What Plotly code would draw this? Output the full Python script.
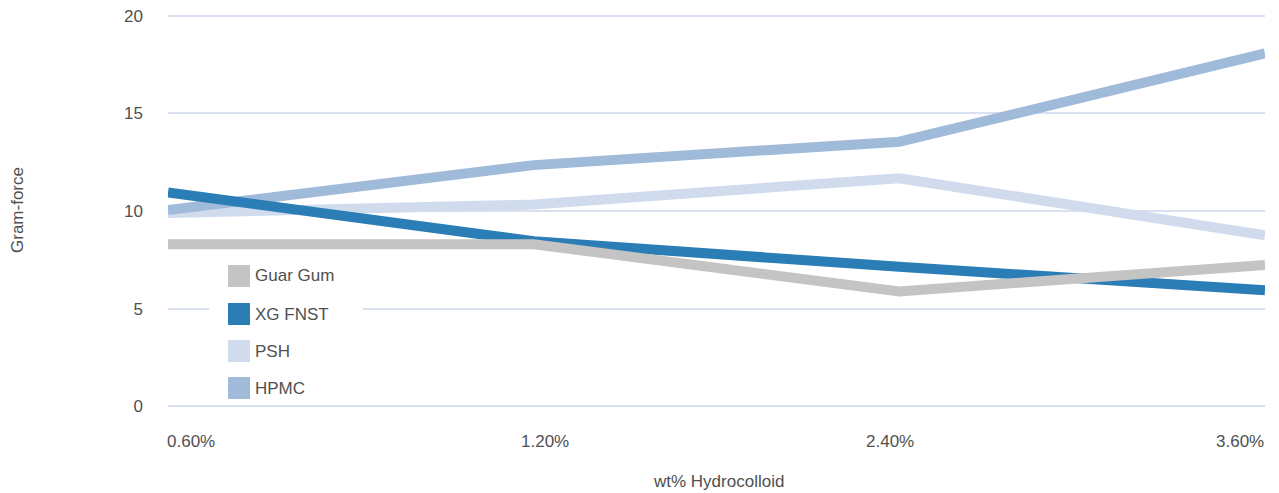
import plotly.graph_objects as go

# Gel strength by hydrocolloid concentration
concentrations = ["0.60%", "1.20%", "2.40%", "3.60%"]
series_names = ["Guar Gum", "XG FNST", "PSH", "HPMC"]
guar_gum = [8.3, 8.3, 5.88, 7.24]
xg_fnst = [10.95, 8.45, 7.14, 5.94]
psh = [9.9, 10.33, 11.68, 8.76]
hpmc = [10.05, 12.35, 13.55, 18.07]
y_ticks = [0, 5, 10, 15, 20]

colors = {
    "Guar Gum": "#c3c4c3",
    "XG FNST": "#2a7db5",
    "PSH": "#d0dcee",
    "HPMC": "#a0bada",
}
values = {"Guar Gum": guar_gum, "XG FNST": xg_fnst, "PSH": psh, "HPMC": hpmc}

W, H = 1279, 493
L, R, T, B = 168, 14, 6, 77
PW, PH = W - L - R, H - T - B

FONT = "Liberation Sans, Arial, sans-serif"
TEXT = "#505050"


def px_x(p):
    return (p - L) / PW


def px_y(p):
    return (H - B - p) / PH


fig = go.Figure()

# draw order: lighter series underneath, Guar Gum on top
for name in ["PSH", "HPMC", "XG FNST", "Guar Gum"]:
    fig.add_trace(go.Scatter(
        x=concentrations, y=values[name], mode="lines", name=name,
        line=dict(color=colors[name], width=10),
        showlegend=False, hoverinfo="skip",
    ))

shapes = []
annotations = []

# legend box (white panel interrupting the gridline)
shapes.append(dict(type="rect", xref="paper", yref="paper",
                   x0=px_x(209), x1=px_x(363), y0=px_y(402), y1=px_y(258),
                   fillcolor="white", line=dict(width=0), layer="above"))
row_y = [276, 314, 351, 388]
for name, ry in zip(series_names, row_y):
    shapes.append(dict(type="rect", xref="paper", yref="paper",
                       x0=px_x(228), x1=px_x(250),
                       y0=px_y(ry + 11), y1=px_y(ry - 11),
                       fillcolor=colors[name], line=dict(width=0), layer="above"))
    annotations.append(dict(text=name, xref="paper", yref="paper",
                            x=px_x(253), y=px_y(ry), xanchor="left", yanchor="middle",
                            showarrow=False, font=dict(family=FONT, size=17, color=TEXT)))

# category labels along the bottom
anchors = ["left", "center", "center", "right"]
shifts = [-3, 11, -9, 1]
for i, (lab, anc) in enumerate(zip(concentrations, anchors)):
    annotations.append(dict(text=lab, xref="x", yref="paper", x=i, y=px_y(441),
                            xanchor=anc, yanchor="middle", xshift=shifts[i],
                            showarrow=False, font=dict(family=FONT, size=17, color=TEXT)))

# axis titles
annotations.append(dict(text="wt% Hydrocolloid", xref="paper", yref="paper",
                        x=px_x(718), y=px_y(482), xanchor="center", yanchor="middle",
                        showarrow=False, font=dict(family=FONT, size=17, color=TEXT)))
annotations.append(dict(text="Gram-force", xref="paper", yref="paper",
                        x=px_x(17), y=px_y(210), xanchor="center", yanchor="middle",
                        textangle=-90, showarrow=False,
                        font=dict(family=FONT, size=17, color=TEXT)))

fig.update_layout(
    width=W, height=H,
    margin=dict(l=L, r=R, t=T, b=B, pad=0),
    paper_bgcolor="white", plot_bgcolor="white",
    showlegend=False,
    shapes=shapes, annotations=annotations,
    xaxis=dict(type="category", range=[0, 3], showgrid=False, zeroline=False,
               showline=False, showticklabels=False, ticks=""),
    yaxis=dict(range=[-0.5, 20.5], tickvals=y_ticks, ticktext=[str(v) for v in y_ticks],
               showgrid=True, gridcolor="#d9e1f0", gridwidth=1.6,
               zeroline=False, showline=False, ticks="",
               ticklabelstandoff=24,
               tickfont=dict(family=FONT, size=17, color=TEXT)),
)

fig.write_html("out.html")
